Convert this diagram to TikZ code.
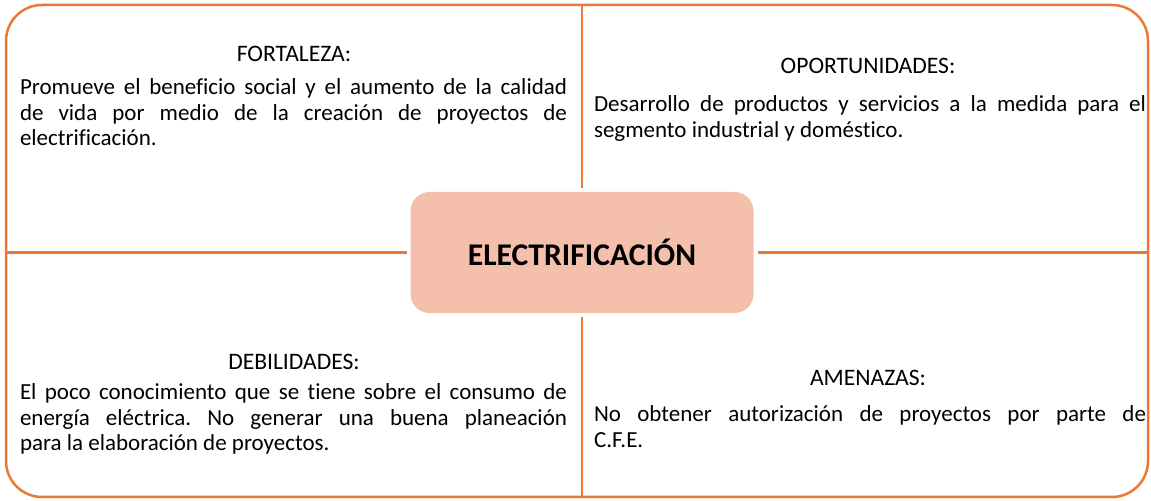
\documentclass[tikz,border=0pt]{standalone}
\usepackage{fontspec}
\setmainfont{Carlito}[Ligatures=NoCommon]
\usetikzlibrary{calc}
\definecolor{swotline}{HTML}{E87A36}
\definecolor{swotcore}{HTML}{F4BFAB}
\frenchspacing

\begin{document}
\begin{tikzpicture}[
    x=0.5pt, y=-0.5pt,
    every node/.style={inner sep=0pt, outer sep=0pt},
    frame/.style={draw=swotline, line width=1.25pt, rounded corners=18pt,
                  minimum width=571pt, minimum height=246pt},
    core/.style={fill=swotcore, rounded corners=9.5pt, minimum width=171.5pt,
                 minimum height=60.5pt, font=\fontsize{15.8}{18}\selectfont\bfseries},
    spoke/.style={draw=swotline, line width=1.25pt, shorten <=2pt},
    head/.style={anchor=base, font=\fontsize{11.8}{12.75}\selectfont},
    body/.style={anchor=base west, align=justify,
                 font=\fontsize{11.5}{12.75}\selectfont}
]
    \useasboundingbox (0,0) rectangle (1151,501);
    \node[frame] (frame) at (577,251) {};
    \node[core] (core) at (582,252.5) {ELECTRIFICACIÓN};

    \draw[spoke] (core.north) -- (core.north |- frame.north);
    \draw[spoke] (core.south) -- (core.south |- frame.south);
    \draw[spoke] (core.west) -- (core.west -| frame.west);
    \draw[spoke] (core.east) -- (core.east -| frame.east);

    \node[head] (forthead) at (294,62) {FORTALEZA:};
    \node[body, text width=273.5pt] (forttext) at (20,95)
        {Promueve el beneficio social y el aumento de la calidad\linebreak
         de vida por medio de la creación de proyectos de\linebreak
         electrificación.};
    \node[head] (oporhead) at (868,74) {OPORTUNIDADES:};
    \node[body, text width=276pt] (oportext) at (594,112)
        {Desarrollo de productos y servicios a la medida para el\linebreak
         segmento industrial y doméstico.};
    \node[head] (debihead) at (294,370) {DEBILIDADES:};
    \node[body, text width=273.5pt] (debitext) at (20,400)
        {El poco conocimiento que se tiene sobre el consumo de\linebreak
         energía eléctrica. No generar una buena planeación\linebreak
         para la elaboración de proyectos.};
    \node[head] (amenhead) at (868,386) {AMENAZAS:};
    \node[body, text width=276pt] (amentext) at (594,422)
        {No obtener autorización de proyectos por parte de\linebreak
         C.F.E.};
\end{tikzpicture}
\end{document}
